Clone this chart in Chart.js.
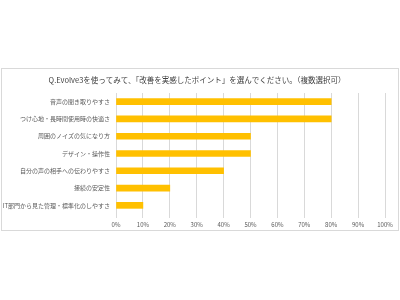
<!DOCTYPE html>
<html><head><meta charset="utf-8">
<script src="https://cdn.jsdelivr.net/npm/chart.js@4"></script>
<style>html,body{margin:0;padding:0;background:#fff}#w{width:400px;height:300px}</style>
</head><body><div id="w"><canvas id="c" width="400" height="300"></canvas></div>
<script>
const categories = ["音声の聞き取りやすさ","つけ心地・長時間使用時の快適さ","周囲のノイズの気になり方","デザイン・操作性","自分の声の相手への伝わりやすさ","接続の安定性","IT部門から見た管理・標準化のしやすさ"];
const values = [80,80,50,50,40,20,10];
const titleText = "Q.Evolve3を使ってみて、「改善を実感したポイント」を選んでください。（複数選択可）";
const F = "'Noto Sans CJK JP','Noto Sans',sans-serif";
const frame = {id:'frame', beforeDraw(ch){const c=ch.ctx;c.save();c.strokeStyle='#d9d9d9';c.lineWidth=1;c.strokeRect(1.5,68.5,397,162);
  c.fillStyle='#404040';c.font='7.5px '+F;c.textAlign='center';c.textBaseline='middle';c.fillText(titleText,197,80);c.restore();}};
new Chart(document.getElementById('c'),{
  type:'bar',
  data:{labels:categories,datasets:[{data:values,backgroundColor:'#ffc000',borderWidth:0,barThickness:6}]},
  options:{
    indexAxis:'y',responsive:false,animation:false,
    layout:{padding:{left:0,right:15,top:93,bottom:72}},
    plugins:{legend:{display:false},tooltip:{enabled:false},title:{display:false}},
    scales:{
      x:{min:0,max:100,ticks:{stepSize:10,callback:v=>v+'%',color:'#595959',font:{family:F,size:6},padding:3,maxRotation:0},
        grid:{color:'#d9d9d9',tickLength:4,drawTicks:true},border:{display:false},
        afterFit:s=>{s.height=14;}},
      y:{ticks:{color:'#595959',font:{family:F,size:6},padding:6},grid:{display:false,drawTicks:false,tickLength:0},border:{display:false},
        afterFit:s=>{s.width=116;}}
    }
  },
  plugins:[frame]
});
</script></body></html>
